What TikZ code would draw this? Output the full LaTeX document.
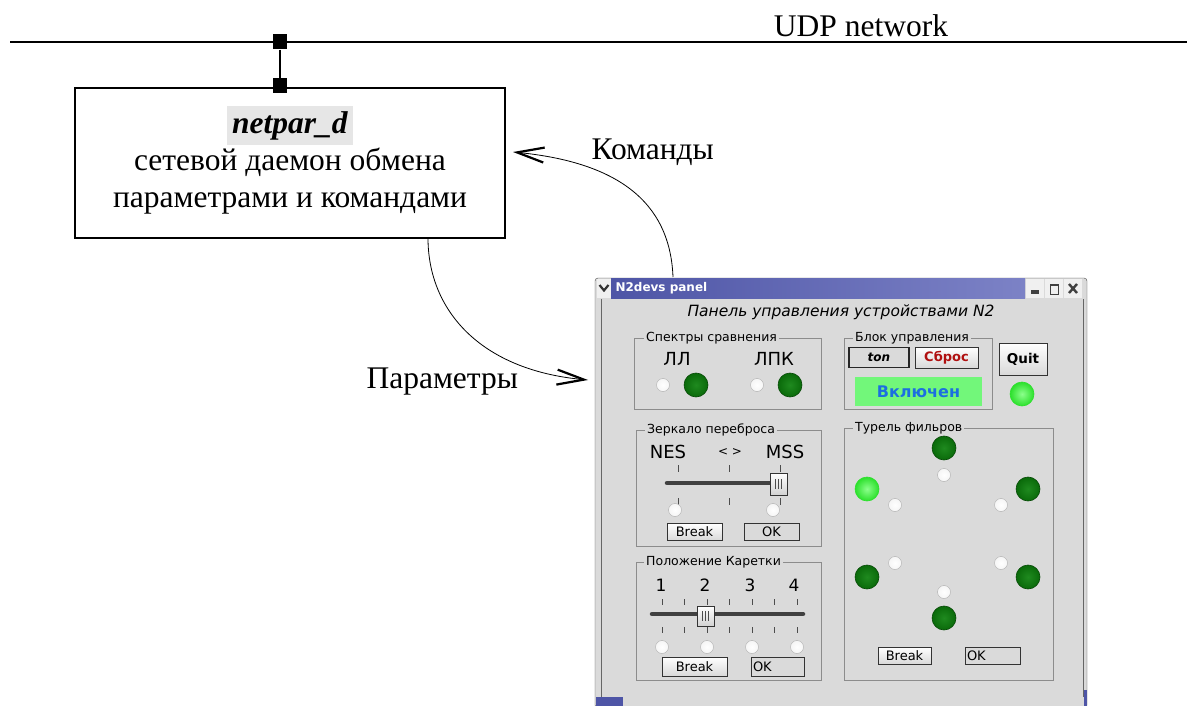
\documentclass[tikz,border=0pt]{standalone}
\usepackage{xcolor}
\usepackage{fontspec}
\setmainfont{Liberation Serif}
\newfontfamily\guifont{DejaVu Sans}
\usepackage{tikz}
\usetikzlibrary{arrows.meta}
\definecolor{panelbg}{HTML}{DADADA}
\definecolor{framegray}{HTML}{8C8C8C}
\definecolor{barblue}{HTML}{4E55A6}
\definecolor{barblue2}{HTML}{7C82C6}
\definecolor{ledoff}{HTML}{0A6A0A}
\definecolor{ledoffhi}{HTML}{1F8A1F}
\definecolor{ledon}{HTML}{8CFF8C}
\definecolor{ledonrim}{HTML}{2CE02C}
\definecolor{onbg}{HTML}{72F77A}
\definecolor{ontext}{HTML}{1C6FE0}
\definecolor{resetred}{HTML}{B01010}
\definecolor{hilite}{HTML}{E6E6E6}
\tikzset{>={Straight Barb[length=27pt,width=15pt,line width=2.2pt]}}
\tikzset{
	port/.style={fill=black,inner sep=0pt,minimum width=14pt,minimum height=15pt},
	procbox/.style={draw,line width=1.2pt,minimum width=430pt,minimum height=150pt},
	flow/.style={->,line width=0.8pt},
	window/.style={draw=black!70,fill=panelbg,inner sep=0pt,rounded corners=3pt},
	winbtn/.style={fill=gray!12,inner sep=0pt,minimum width=18pt,minimum height=19pt},
	groupbox/.style={draw=framegray,line width=0.8pt},
	grouplabel/.style={fill=panelbg,inner sep=2pt,anchor=west,font=\guifont\fontsize{12.5}{14}\selectfont},
	biglabel/.style={font=\guifont\fontsize{18}{20}\selectfont},
	led/.style={circle,inner sep=0pt,minimum size=24pt,draw=ledoff!70!black,line width=0.6pt,inner color=ledoffhi,outer color=ledoff},
	ledlit/.style={led,draw=ledonrim,inner color=ledon,outer color=ledonrim},
	radio/.style={circle,inner sep=0pt,minimum size=13pt,inner color=white,outer color=gray!8,draw=gray!65},
	pushbtn/.style={draw=black!80,line width=0.9pt,inner sep=0pt,top color=white,bottom color=gray!30,font=\guifont\fontsize{13}{15}\selectfont},
	okbox/.style={draw=black!80,line width=0.9pt,fill=panelbg,inner xsep=2pt,inner ysep=0pt,text width=#1,align=left,font=\guifont\fontsize{13}{15}\selectfont},
	track/.style={line width=4.5pt,line cap=round,black!75},
	tick/.style={line width=0.8pt,black!70},
	thumb/.style={draw=black!80,top color=white,bottom color=gray!35,inner sep=0pt,minimum width=17pt,minimum height=22pt,
		path picture={\foreach \d in {-3,0,3} \draw[black!70,line width=0.7pt] ([xshift=\d pt,yshift=-5pt]path picture bounding box.center) -- ++(0pt,10pt);}},
}

\begin{document}
\begin{tikzpicture}[x=1pt,y=-1pt]
	\useasboundingbox (0,0) rectangle (1187,706);
	\coordinate (netL) at (10,42);
	\coordinate (netR) at (1187,42);
	\draw[line width=1.3pt] (netL) -- (netR);
	\node[anchor=base,font=\fontsize{31.5}{36}\selectfont] (udp) at (861,37) {UDP network};
	\node[procbox] (netpar) at (290,163) {};
	\node[align=center,font=\fontsize{31.5}{37}\selectfont] (netpartext) at (290,160) {\setlength{\fboxsep}{5pt}\colorbox{hilite}{\textbf{\textit{netpar\_d}}}\\сетевой даемон обмена\\параметрами и командами};
	\node[port] (portnet) at (280,42) {};
	\node[port] (portbox) at (280,86) {};
	\draw[line width=1.2pt] (portnet) -- (portbox);

	% panel window
	\node[window,minimum width=492pt,minimum height=430pt] (panel) at (841,493) {};
	\node[inner sep=0pt,minimum width=414pt,minimum height=20pt,left color=barblue,right color=barblue2] (panelbar) at (818,288) {};
	\node[anchor=west,text=white,font=\guifont\bfseries\fontsize{12}{14}\selectfont] (paneltitle) at (612,288) {N2devs panel};
	\node[winbtn,minimum width=14pt] (menubtn) at (604,288) {};
	\draw[line width=2.2pt,black!80] (599.5,285) -- (604,290.5) -- (608.5,285);
	\node[winbtn] (minbtn) at (1035,288) {};
	\node[winbtn] (maxbtn) at (1054,288) {};
	\node[winbtn] (closebtn) at (1073,288) {};
	\fill[black!75] (1031,290) rectangle (1039,294);
	\draw[black!75,line width=1pt] (1050,284) rectangle (1058,294);
	\draw[black!75,line width=2pt] (1050,284.5) -- (1058,284.5);
	\draw[black!75,line width=2.4pt] (1069,284) -- (1077,293) (1077,284) -- (1069,293);
	\draw[black!60,line width=1pt] (601,299) -- (601,697);
	\draw[black!60,line width=1pt] (1083,299) -- (1083,697);
	\fill[barblue] (596,697) rectangle (623,706);
	\fill[barblue] (1084,690) rectangle (1087,706);
	\node[font=\guifont\itshape\fontsize{15.5}{18}\selectfont] (paneltext) at (841,312) {Панель управления устройствами N2};

	% Спектры сравнения
	\draw[groupbox] (634,338) rectangle (821,409);
	\node[grouplabel] (speclabel) at (644,338) {Спектры сравнения};
	\node[biglabel] (specll) at (677,359) {ЛЛ};
	\node[biglabel] (speclpk) at (774,359) {ЛПК};
	\node[radio] (specllsel) at (663,385) {};
	\node[led] (speclled) at (696,385) {};
	\node[radio] (speclpksel) at (757,385) {};
	\node[led] (speclpkled) at (790,385) {};

	% Блок управления
	\draw[groupbox] (844,338) rectangle (992,409);
	\node[grouplabel] (ctrllabel) at (853,338) {Блок управления};
	\node[draw=black!85,line width=1.1pt,fill=panelbg,minimum width=60pt,minimum height=20pt,inner sep=0pt,font=\guifont\bfseries\itshape\fontsize{12}{14}\selectfont] (ctrlton) at (879,357.5) {ton};
	\node[pushbtn,minimum width=63pt,minimum height=21pt,text=resetred,font=\guifont\bfseries\fontsize{13}{15}\selectfont] (ctrlreset) at (946.5,357.5) {Сброс};
	\node[fill=onbg,minimum width=127pt,minimum height=29pt,inner sep=0pt,text=ontext,font=\guifont\bfseries\fontsize{16}{18}\selectfont] (ctrlstate) at (918.5,391.5) {Включен};
	\node[pushbtn,minimum width=48pt,minimum height=32pt,font=\guifont\bfseries\fontsize{13.5}{15}\selectfont] (quit) at (1023,359) {Quit};
	\node[ledlit] (quitled) at (1022,394) {};

	% Зеркало переброса
	\draw[groupbox] (636,430) rectangle (821,546);
	\node[grouplabel] (mirrorlabel) at (645,430) {Зеркало переброса};
	\node[biglabel] (mirrornes) at (668,452) {NES};
	\node[font=\guifont\fontsize{12}{14}\selectfont] (mirrormid) at (730,452) {< >};
	\node[biglabel] (mirrormss) at (785,452) {MSS};
	\foreach \tx in {678,729,780} {
		\draw[tick] (\tx,465) -- (\tx,472);
		\draw[tick] (\tx,498) -- (\tx,505);
	}
	\draw[track] (667,483) -- (778,483);
	\node[thumb] (mirrorthumb) at (778.5,484) {};
	\node[radio] (mirrorsel1) at (675,510) {};
	\node[radio] (mirrorsel2) at (773,510) {};
	\node[pushbtn,minimum width=55pt,minimum height=17pt] (mirrorbreak) at (694.5,532) {Break};
	\node[okbox=51pt,minimum height=17pt] (mirrorok) at (771.5,532) {\hfil OK\hfil};

	% Положение Каретки
	\draw[groupbox] (636,562) rectangle (821,680);
	\node[grouplabel] (carlabel) at (644,562) {Положение Каретки};
	\foreach \n/\tx in {1/661,2/705,3/750,4/794}
		\node[font=\guifont\fontsize{17}{19}\selectfont] (carnum\n) at (\tx,585) {\n};
	\foreach \tx in {662,684,707,729,752,774,797} {
		\draw[tick] (\tx,599) -- (\tx,605);
		\draw[tick] (\tx,627) -- (\tx,633);
	}
	\draw[track] (652,614) -- (803,614);
	\node[thumb,minimum height=20pt] (carthumb) at (705.5,616) {};
	\foreach \n/\tx in {1/662,2/707,3/752,4/797}
		\node[radio] (carsel\n) at (\tx,647) {};
	\node[pushbtn,minimum width=65pt,minimum height=19pt] (carbreak) at (694.5,666.5) {Break};
	\node[okbox=49pt,minimum height=19pt] (carok) at (777.5,666.5) {OK};

	% Турель фильров
	\draw[groupbox] (844,428) rectangle (1053,680);
	\node[grouplabel] (turretlabel) at (853,428) {Турель фильров};
	\node[led] (turretled1) at (944,448) {};
	\node[radio] (turretsel1) at (944,475) {};
	\node[ledlit] (turretled2) at (867,489) {};
	\node[radio] (turretsel2) at (895,505) {};
	\node[led] (turretled3) at (1028,489) {};
	\node[radio] (turretsel3) at (1001,505) {};
	\node[led] (turretled4) at (867,577) {};
	\node[radio] (turretsel4) at (895,563) {};
	\node[led] (turretled5) at (1028,577) {};
	\node[radio] (turretsel5) at (1001,563) {};
	\node[radio] (turretsel6) at (944,592) {};
	\node[led] (turretled6) at (944,618) {};
	\node[pushbtn,minimum width=53pt,minimum height=17pt] (turretbreak) at (904.5,655.5) {Break};
	\node[okbox=51pt,minimum height=17pt] (turretok) at (992.5,655.5) {OK};

	% обмен
	\coordinate (cmdfrom) at (673,277);
	\coordinate (cmdto) at (513,152);
	\coordinate (parfrom) at (428,238);
	\coordinate (parto) at (588,380);
	\draw[flow] (cmdfrom) .. controls (670,200) and (615,162) .. (cmdto);
	\draw[flow] (parfrom) .. controls (428,310) and (480,370) .. (parto);
	\node[anchor=base west,font=\fontsize{31.5}{36}\selectfont] (cmdlabel) at (588,160) {Команды};
	\node[anchor=base west,font=\fontsize{31.5}{36}\selectfont] (parlabel) at (363,388) {Параметры};
\end{tikzpicture}
\end{document}
